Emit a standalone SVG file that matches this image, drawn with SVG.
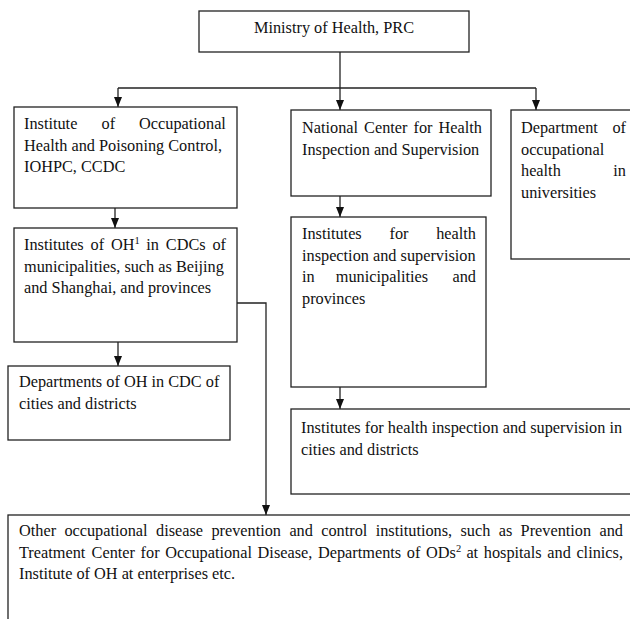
<svg xmlns="http://www.w3.org/2000/svg" width="630" height="619" viewBox="0 0 630 619">
<style>
.box{fill:#fff;stroke:#222;stroke-width:1.3}
.ln{fill:none;stroke:#222;stroke-width:1.3}
text{font-family:"Liberation Serif","Times New Roman",serif;font-size:16.3px;fill:#111}
.sup{font-size:10.5px}
</style>
<defs>
<marker id="ah" markerUnits="userSpaceOnUse" markerWidth="10" markerHeight="10" viewBox="0 0 10 10" refX="10" refY="5" orient="auto">
<path d="M0,1 L10,5 L0,9 Z" fill="#111"/>
</marker>
</defs>
<rect width="630" height="619" fill="#fff"/>
<g id="connectors">
<path class="ln" d="M340,52 V88"/>
<path class="ln" d="M118,88 H536"/>
<path class="ln" d="M118,88 V107" marker-end="url(#ah)"/>
<path class="ln" d="M340,88 V110" marker-end="url(#ah)"/>
<path class="ln" d="M536,88 V110" marker-end="url(#ah)"/>
<path class="ln" d="M115,208 V228" marker-end="url(#ah)"/>
<path class="ln" d="M118,342 V366" marker-end="url(#ah)"/>
<path class="ln" d="M340,196 V217" marker-end="url(#ah)"/>
<path class="ln" d="M340,387 V409" marker-end="url(#ah)"/>
<path class="ln" d="M237,303 H266 V515" marker-end="url(#ah)"/>
</g>
<g id="ministry">
<rect class="box" x="199" y="11" width="270" height="41"/>
<text x="334" y="32.5" text-anchor="middle">Ministry of Health, PRC</text>
</g>
<g id="iohpc">
<rect class="box" x="14" y="107" width="223" height="101"/>
<text y="129"><tspan x="24">Institute</tspan><tspan x="101.5">of</tspan><tspan x="139.1">Occupational</tspan></text>
<text x="24" y="150.5">Health and Poisoning Control,</text>
<text x="24" y="172">IOHPC, CCDC</text>
</g>
<g id="cdc-provinces">
<rect class="box" x="14" y="228" width="223" height="114"/>
<text y="250"><tspan x="24">Institutes</tspan><tspan x="90.6">of</tspan><tspan x="111">OH</tspan><tspan class="sup" x="134.5" dy="-6">1</tspan><tspan x="146.3" dy="6">in</tspan><tspan x="165.8">CDCs</tspan><tspan x="212.4">of</tspan></text>
<text x="24" y="271.5">municipalities, such as Beijing</text>
<text x="24" y="293">and Shanghai, and provinces</text>
</g>
<g id="cdc-cities">
<rect class="box" x="8" y="366" width="222" height="74"/>
<text x="19" y="387">Departments of OH in CDC of</text>
<text x="19" y="408.5">cities and districts</text>
</g>
<g id="nchis">
<rect class="box" x="291" y="110" width="200" height="86"/>
<text y="133"><tspan x="302">National</tspan><tspan x="364.1">Center</tspan><tspan x="413.5">for</tspan><tspan x="438.5">Health</tspan></text>
<text x="302" y="154.5">Inspection and Supervision</text>
</g>
<g id="his-provinces">
<rect class="box" x="291" y="217" width="195" height="170"/>
<text y="239"><tspan x="302">Institutes</tspan><tspan x="389.5">for</tspan><tspan x="436.2">health</tspan></text>
<text x="302" y="260.5">inspection and supervision</text>
<text y="282"><tspan x="302">in</tspan><tspan x="335.8">municipalities</tspan><tspan x="452.5">and</tspan></text>
<text x="302" y="303.5">provinces</text>
</g>
<g id="his-cities">
<rect class="box" x="291" y="409" width="350" height="85"/>
<text x="301" y="433">Institutes for health inspection and supervision in</text>
<text x="301" y="454.5">cities and districts</text>
</g>
<g id="universities">
<rect class="box" x="511" y="110" width="130" height="149"/>
<text y="133"><tspan x="521">Department</tspan><tspan x="612.4">of</tspan></text>
<text x="521" y="154.5">occupational</text>
<text y="176"><tspan x="521">health</tspan><tspan x="613.3">in</tspan></text>
<text x="521" y="197.5">universities</text>
</g>
<g id="other">
<rect class="box" x="8" y="515" width="640" height="130"/>
<text y="536"><tspan x="19">Other</tspan><tspan x="64.4">occupational</tspan><tspan x="156">disease</tspan><tspan x="211.4">prevention</tspan><tspan x="289.4">and</tspan><tspan x="321.2">control</tspan><tspan x="375.7">institutions,</tspan><tspan x="460.5">such</tspan><tspan x="498.7">as</tspan><tspan x="520.6">Prevention</tspan><tspan x="599.5">and</tspan></text>
<text y="557.5"><tspan x="19">Treatment</tspan><tspan x="91.6">Center</tspan><tspan x="140.6">for</tspan><tspan x="165.2">Occupational</tspan><tspan x="257.6">Disease,</tspan><tspan x="318">Departments</tspan><tspan x="406.8">of</tspan><tspan x="426">ODs</tspan><tspan class="sup" x="455.9" dy="-6">2</tspan><tspan x="466.4" dy="6">at</tspan><tspan x="483.8">hospitals</tspan><tspan x="547.3">and</tspan><tspan x="576.4">clinics,</tspan></text>
<text x="19" y="579">Institute of OH at enterprises etc.</text>
</g>
</svg>
